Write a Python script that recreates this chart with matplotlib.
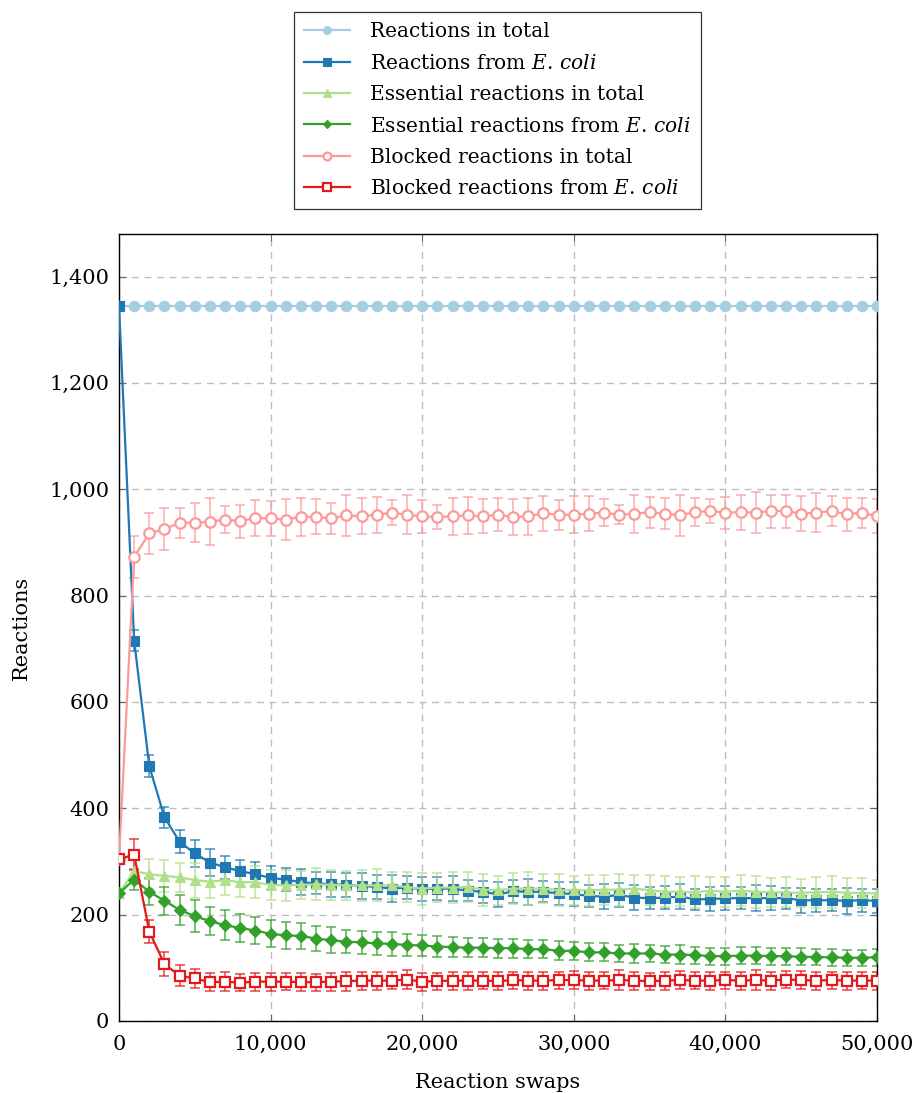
import numpy as np
import matplotlib
matplotlib.use("Agg")
import matplotlib.pyplot as plt
from matplotlib.ticker import FuncFormatter, MultipleLocator

plt.rcParams['font.family'] = ['DejaVu Serif']
plt.rcParams['mathtext.fontset'] = 'dejavuserif'

swaps = list(range(0, 50001, 1000))

reactions_total = [1345] * 51

reactions_ecoli = [1345, 715, 479, 383, 337, 315, 298, 289, 282, 276, 269, 266, 261, 259, 257, 256,
                   254, 252, 249, 251, 248, 249, 249, 245, 243, 238, 244, 243, 243, 240, 239, 235,
                   234, 237, 232, 231, 232, 234, 229, 229, 231, 231, 231, 231, 231, 227, 227, 227,
                   226, 227, 226]
reactions_ecoli_err = [0, 20, 21, 20, 22, 25, 25, 22, 20, 23, 23, 22, 24, 21, 23, 22, 24, 22, 25, 21,
                       23, 22, 24, 20, 21, 23, 22, 24, 20, 22, 23, 21, 24, 22, 23, 21, 22, 24, 20, 23,
                       22, 21, 24, 22, 20, 23, 22, 21, 24, 22, 23]

essential_total = [240, 282, 276, 273, 270, 265, 262, 265, 261, 261, 256, 255, 256, 257, 256, 255,
                   255, 255, 255, 252, 249, 251, 251, 252, 247, 246, 249, 249, 249, 246, 246, 246,
                   247, 247, 249, 246, 243, 243, 242, 245, 243, 245, 243, 242, 242, 241, 242, 243,
                   241, 241, 240]
essential_total_err = [0, 25, 28, 30, 27, 33, 30, 28, 27, 30, 28, 29, 26, 30, 28, 27, 29, 30, 26, 28,
                       30, 27, 29, 28, 30, 27, 29, 31, 28, 30, 27, 29, 28, 30, 26, 28, 29, 27, 30, 26,
                       28, 29, 30, 27, 28, 26, 29, 30, 27, 28, 26]

essential_ecoli = [240, 266, 243, 226, 209, 197, 188, 180, 175, 170, 164, 161, 160, 155, 152, 149,
                   148, 146, 145, 143, 142, 140, 139, 138, 138, 137, 137, 135, 135, 132, 132, 129,
                   129, 127, 127, 127, 125, 125, 124, 122, 122, 123, 123, 122, 122, 121, 120, 120,
                   119, 119, 120]
essential_ecoli_err = [0, 20, 25, 26, 28, 30, 27, 28, 27, 26, 25, 26, 24, 23, 24, 22, 22, 21, 22, 20,
                       20, 19, 19, 18, 18, 18, 18, 17, 17, 18, 17, 17, 17, 16, 17, 16, 16, 17, 16, 16,
                       16, 16, 16, 16, 16, 16, 15, 16, 15, 15, 16]

blocked_total = [304, 873, 917, 925, 937, 937, 939, 943, 940, 946, 945, 943, 948, 948, 945, 951,
                 949, 952, 956, 952, 949, 948, 949, 951, 949, 952, 948, 949, 955, 952, 952, 954,
                 956, 952, 954, 957, 954, 951, 957, 959, 956, 957, 956, 959, 959, 954, 956, 959,
                 953, 956, 949]
blocked_total_err = [0, 40, 39, 39, 28, 37, 44, 25, 31, 33, 33, 39, 36, 33, 30, 39, 34, 34, 24, 37,
                     31, 23, 35, 35, 32, 31, 34, 35, 33, 28, 35, 33, 26, 18, 36, 29, 29, 39, 26, 23,
                     30, 33, 39, 31, 31, 33, 36, 29, 31, 28, 32]

blocked_ecoli = [304, 313, 168, 107, 85, 80, 73, 74, 72, 74, 74, 74, 73, 73, 74, 75, 76, 76, 76, 78,
                 74, 75, 76, 76, 76, 75, 77, 76, 76, 77, 77, 76, 76, 77, 76, 75, 76, 77, 76, 76,
                 77, 76, 77, 76, 78, 77, 76, 77, 76, 76, 76]
blocked_ecoli_err = [0, 29, 22, 22, 20, 18, 17, 18, 16, 17, 17, 16, 17, 16, 17, 18, 17, 17, 16, 18,
                     17, 16, 17, 17, 16, 17, 16, 17, 17, 16, 17, 17, 16, 18, 17, 16, 17, 17, 16, 17,
                     16, 17, 18, 17, 16, 17, 17, 16, 17, 16, 17]

labels = ["Reactions in total",
          r"Reactions from $\mathit{E.\,coli}$",
          "Essential reactions in total",
          r"Essential reactions from $\mathit{E.\,coli}$",
          "Blocked reactions in total",
          r"Blocked reactions from $\mathit{E.\,coli}$"]

colors = ['#a6cee3', '#1f78b4', '#b2df8a', '#33a02c', '#fb9a99', '#e31a1c']

series = [
    (reactions_total, None, 'o', True, 7.5),
    (reactions_ecoli, reactions_ecoli_err, 's', True, 7.5),
    (essential_total, essential_total_err, '^', True, 7.5),
    (essential_ecoli, essential_ecoli_err, 'D', True, 6),
    (blocked_total, blocked_total_err, 'o', False, 7.5),
    (blocked_ecoli, blocked_ecoli_err, 's', False, 7),
]

fig = plt.figure(figsize=(9.15, 10.93), dpi=100)
ax = fig.add_axes([119/915, 72/1093, 758/915, 787/1093])

handles = []
for (vals, errs, mk, filled, ms), col, lab in zip(series, colors, labels):
    if errs is not None:
        ax.errorbar(swaps, vals, yerr=errs, fmt='none', ecolor=col, alpha=0.7,
                    elinewidth=1.3, capsize=3.5, capthick=1.3, zorder=2)
    h, = ax.plot(swaps, vals, color=col, lw=1.6, marker=mk, markersize=ms,
                 markerfacecolor=col if filled else 'white', markeredgecolor=col,
                 markeredgewidth=1.6 if not filled else 0.8, label=lab, zorder=3)
    handles.append(h)

ax.set_xlim(0, 50000)
ax.set_ylim(0, 1480)
ax.xaxis.set_major_locator(MultipleLocator(10000))
ax.yaxis.set_major_locator(MultipleLocator(200))
fmt = FuncFormatter(lambda v, p: f"{int(round(v)):,}")
ax.xaxis.set_major_formatter(fmt)
ax.yaxis.set_major_formatter(fmt)
ax.tick_params(direction='in', length=5, width=0.8, color='#666666', labelsize=15,
               top=True, right=True)
ax.tick_params(axis='x', pad=10)
ax.tick_params(axis='y', pad=7)
ax.grid(True, color='#bdbdbd', linestyle=(0, (5, 4)), lw=1.0, zorder=0)
ax.set_axisbelow(True)
for sp in ax.spines.values():
    sp.set_linewidth(1.0)
    sp.set_color('black')

ax.set_xlabel("Reaction swaps", fontsize=15, labelpad=14)
ax.set_ylabel("Reactions", fontsize=15, labelpad=13)

leg = fig.legend(handles=handles, loc='upper center', bbox_to_anchor=(497.5/915, 1 - 12/1093),
                 fontsize=14.5, frameon=True, fancybox=False, edgecolor='black',
                 handlelength=2.3, handletextpad=1.0, labelspacing=0.62, borderpad=0.5,
                 borderaxespad=0.0, markerscale=0.75)
leg.get_frame().set_linewidth(0.9)

fig.savefig("out.png", dpi=100)
